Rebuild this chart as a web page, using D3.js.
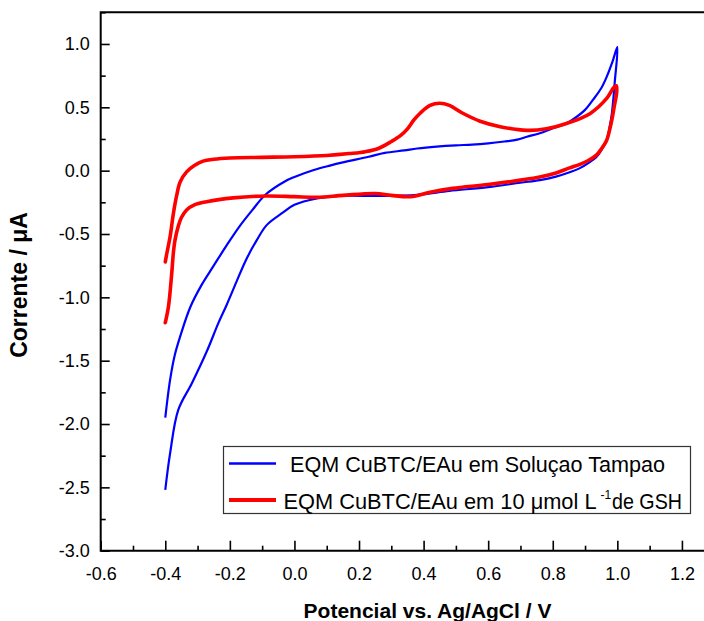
<!DOCTYPE html>
<html><head><meta charset="utf-8">
<script src="https://cdn.jsdelivr.net/npm/d3@7"></script>
<style>
html,body{margin:0;padding:0;background:#fff;}
svg{display:block;font-family:"Liberation Sans",Arial,sans-serif;}
</style></head>
<body>
<svg id="chart" width="704" height="621"></svg>
<script>
// ---- data ----
const xTicks = [-0.6,-0.4,-0.2,0.0,0.2,0.4,0.6,0.8,1.0,1.2];
const yTicks = [-3.0,-2.5,-2.0,-1.5,-1.0,-0.5,0.0,0.5,1.0];
const legendLabels = ["EQM CuBTC/EAu em Soluçao Tampao", "EQM CuBTC/EAu em 10 μmol L", "-1", "de GSH"];

// Blue: buffer solution (forward then reverse scan)
const bufferE = [-0.40,-0.385,-0.37,-0.354,-0.323,-0.287,-0.25,-0.21,-0.17,-0.13,-0.09,-0.03,0.00,0.06,0.11,0.15,0.23,0.28,0.34,0.38,0.44,0.50,0.55,0.60,0.65,0.69,0.72,0.76,0.80,0.84,0.86,0.90,0.925,0.95,0.967,0.985,1.00,
  0.992,0.983,0.975,0.967,0.95,0.936,0.91,0.884,0.85,0.81,0.76,0.70,0.60,0.48,0.38,0.27,0.14,0.07,0.00,-0.035,-0.086,-0.117,-0.15,-0.18,-0.21,-0.235,-0.272,-0.318,-0.36,-0.385,-0.40];
const bufferI = [-1.95,-1.65,-1.45,-1.31,-1.08,-0.90,-0.75,-0.59,-0.44,-0.31,-0.19,-0.085,-0.05,0.005,0.04,0.065,0.11,0.14,0.16,0.175,0.19,0.20,0.205,0.215,0.23,0.245,0.268,0.295,0.335,0.37,0.40,0.48,0.56,0.65,0.74,0.86,0.975,
  0.70,0.45,0.33,0.24,0.16,0.11,0.06,0.02,-0.015,-0.047,-0.075,-0.095,-0.13,-0.16,-0.19,-0.20,-0.20,-0.22,-0.27,-0.33,-0.43,-0.55,-0.705,-0.88,-1.06,-1.20,-1.43,-1.68,-1.89,-2.23,-2.52];

// Red: 10 umol/L GSH (forward then reverse scan)
const gshE = [-0.40,-0.395,-0.385,-0.375,-0.365,-0.354,-0.334,-0.31,-0.283,-0.25,-0.20,-0.10,0.00,0.10,0.17,0.22,0.26,0.30,0.33,0.35,0.37,0.39,0.42,0.45,0.48,0.52,0.575,0.637,0.72,0.78,0.84,0.915,0.967,0.99,0.997,
  0.998,0.99,0.983,0.975,0.967,0.95,0.936,0.91,0.884,0.85,0.81,0.76,0.70,0.60,0.49,0.42,0.36,0.30,0.25,0.15,0.07,0.00,-0.09,-0.19,-0.272,-0.31,-0.334,-0.35,-0.36,-0.37,-0.375,-0.38,-0.39,-0.40];
const gshI = [-0.72,-0.65,-0.52,-0.34,-0.20,-0.09,-0.01,0.04,0.075,0.09,0.10,0.105,0.11,0.12,0.135,0.15,0.175,0.23,0.28,0.33,0.40,0.455,0.515,0.532,0.515,0.455,0.39,0.347,0.318,0.33,0.37,0.45,0.57,0.66,0.67,
  0.62,0.50,0.40,0.31,0.24,0.17,0.125,0.08,0.05,0.02,-0.018,-0.05,-0.075,-0.11,-0.14,-0.17,-0.205,-0.195,-0.18,-0.195,-0.21,-0.205,-0.20,-0.215,-0.245,-0.27,-0.31,-0.37,-0.44,-0.55,-0.65,-0.81,-1.07,-1.20];

// ---- drawing ----
const svg = d3.select("#chart");
const plotLeft = 100.7, plotBottom = 550.7, plotTop = 12.3;
const x = d3.scaleLinear().domain([-0.6, 1.3]).range([plotLeft, plotLeft + 1.9*322.9]);
const y = d3.scaleLinear().domain([-3, 1.25]).range([plotBottom, plotTop]);
const fmt = d => d.toFixed(1);

// curves
const line = d3.line().x(d=>x(d[0])).y(d=>y(d[1])).curve(d3.curveCatmullRom.alpha(0.5));
const blue = bufferE.map((e,i)=>[e,bufferI[i]]);
const red = gshE.map((e,i)=>[e,gshI[i]]);
svg.append("path").attr("d", line(blue)).attr("fill","none").attr("stroke","#0000ff").attr("stroke-width",2.2).attr("stroke-linejoin","round");
svg.append("path").attr("d", line(red)).attr("fill","none").attr("stroke","#ff0000").attr("stroke-width",3.6).attr("stroke-linejoin","round").attr("stroke-linecap","round");

// axes
const xMinor = d3.range(-0.5, 1.31, 0.2).map(v=>+v.toFixed(2));
const yMinor = d3.range(-2.75, 1.3, 0.5).map(v=>+v.toFixed(2));
const xAxis = d3.axisBottom(x).tickValues(xTicks).tickSize(-10).tickPadding(17).tickFormat(fmt);
const xAxisMinor = d3.axisBottom(x).tickValues(xMinor).tickSize(-5).tickFormat("");
const yAxis = d3.axisLeft(y).tickValues(yTicks).tickSize(-9).tickPadding(11).tickFormat(fmt);
const yAxisMinor = d3.axisLeft(y).tickValues(yMinor).tickSize(-5).tickFormat("");

function style(g){
  g.select(".domain").remove();
  g.selectAll(".tick line").attr("stroke","#000").attr("stroke-width",1.6);
  g.selectAll(".tick text").attr("font-size",18).attr("fill","#000").attr("font-family","'Liberation Sans',Arial,sans-serif");
}
svg.append("g").attr("transform",`translate(0,${plotBottom})`).call(xAxis).call(style);
svg.append("g").attr("transform",`translate(0,${plotBottom})`).call(xAxisMinor).call(style);
svg.append("g").attr("transform",`translate(${plotLeft},0)`).call(yAxis).call(style);
svg.append("g").attr("transform",`translate(${plotLeft},0)`).call(yAxisMinor).call(style);

// frame lines (left, bottom, top; right side lies outside the picture)
svg.append("path").attr("d",`M704,${plotTop}H${plotLeft}V${plotBottom}H704`).attr("fill","none").attr("stroke","#000").attr("stroke-width",2);

// axis titles
svg.append("text").attr("x",427.5).attr("y",618).attr("text-anchor","middle")
  .attr("font-size",21).attr("font-weight","bold").text("Potencial vs. Ag/AgCl / V");
svg.append("text").attr("transform","translate(27,285) rotate(-90)").attr("text-anchor","middle")
  .attr("font-size",23).attr("font-weight","bold").text("Corrente / μA");

// legend
const lg = svg.append("g");
lg.append("rect").attr("x",223.5).attr("y",446.5).attr("width",467).attr("height",67)
  .attr("fill","#fff").attr("stroke","#333").attr("stroke-width",1.2);
lg.append("line").attr("x1",229).attr("x2",276).attr("y1",463.5).attr("y2",463.5).attr("stroke","#0000ff").attr("stroke-width",2.5);
lg.append("line").attr("x1",229).attr("x2",276).attr("y1",500).attr("y2",500).attr("stroke","#ff0000").attr("stroke-width",4);
lg.append("text").attr("x",290).attr("y",472).attr("font-size",21.5)
  .attr("textLength",375).attr("lengthAdjust","spacingAndGlyphs").text(legendLabels[0]);
// second entry: main text, superscript and tail as separate text elements
lg.append("text").attr("x",283.5).attr("y",509).attr("font-size",21.8)
  .attr("textLength",313).attr("lengthAdjust","spacingAndGlyphs").text(legendLabels[1]);
lg.append("text").attr("x",600.5).attr("y",499).attr("font-size",12).text(legendLabels[2]);
lg.append("text").attr("x",612).attr("y",509).attr("font-size",21.8)
  .attr("textLength",70).attr("lengthAdjust","spacingAndGlyphs").text(legendLabels[3]);
</script>
</body></html>
